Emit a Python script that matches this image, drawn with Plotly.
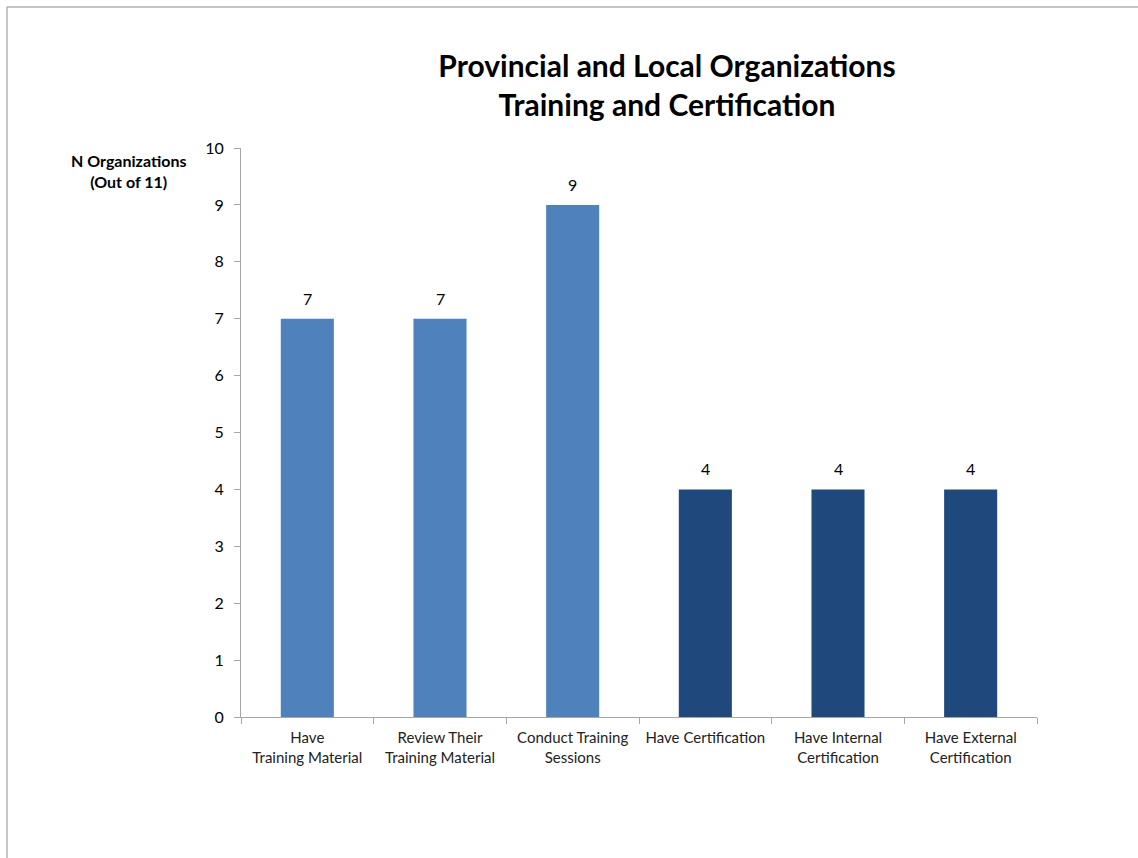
import plotly.graph_objects as go

categories = [
    "Have<br>Training Material",
    "Review Their<br>Training Material",
    "Conduct Training<br>Sessions",
    "Have Certification",
    "Have Internal<br>Certification",
    "Have External<br>Certification",
]
counts = [7, 7, 9, 4, 4, 4]
groups = ["training", "training", "training", "cert", "cert", "cert"]
group_colors = {"training": "#4F81BD", "cert": "#1F497D"}
y_ticks = list(range(0, 11))

W, H = 1138, 858
L, R, T, B = 241, 101, 148, 141
pw, ph = W - L - R, H - T - B

def px_x(p):
    return (p - L) / pw

def px_y(p):
    return (H - B - p) / ph

font_family = "Lato, 'Open Sans', Arial, sans-serif"

fig = go.Figure(
    go.Bar(
        x=categories,
        y=counts,
        marker=dict(color=[group_colors[g] for g in groups], line=dict(width=0)),
        width=0.4,
    )
)

# value labels above each bar
for cat, v in zip(categories, counts):
    fig.add_annotation(
        x=cat, y=v, text=str(v),
        xref="x", yref="y",
        yanchor="bottom", yshift=9,
        showarrow=False,
        font=dict(size=16, color="#000000", family=font_family),
    )

fig.update_layout(
    width=W,
    height=H,
    margin=dict(l=L, r=R, t=T, b=B),
    paper_bgcolor="white",
    plot_bgcolor="white",
    showlegend=False,
    font=dict(family=font_family, color="#000000"),
    title=dict(
        text="<b>Provincial and Local Organizations<br>Training and Certification</b>",
        x=px_x(667),
        xref="paper",
        xanchor="center",
        y=1 - 77 / H,
        yanchor="middle",
        font=dict(size=30, color="#000000", family=font_family),
    ),
    xaxis=dict(
        tickson="boundaries",
        ticks="outside",
        ticklen=6,
        tickcolor="#A6A6A6",
        showline=True,
        linecolor="#A6A6A6",
        linewidth=1,
        showgrid=False,
        ticklabelstandoff=7,
        tickfont=dict(size=15, color="#222222"),
    ),
    yaxis=dict(
        range=[0, 10],
        tickvals=y_ticks,
        ticks="outside",
        ticklen=6,
        tickcolor="#A6A6A6",
        showline=True,
        linecolor="#A6A6A6",
        linewidth=1,
        showgrid=False,
        zeroline=False,
        ticklabelstandoff=7,
        tickfont=dict(size=16, color="#000000"),
    ),
    bargap=0.6,
)

fig.add_annotation(
    text="<b>N Organizations<br>(Out of 11)</b>",
    xref="paper", yref="paper",
    x=px_x(128), y=px_y(171),
    xanchor="center", yanchor="middle",
    showarrow=False,
    font=dict(size=16, color="#000000"),
    align="center",
)

# outer frame lines (top and left edges)
fig.add_shape(type="line", xref="paper", yref="paper",
              x0=px_x(7), x1=px_x(1140), y0=px_y(7), y1=px_y(7),
              line=dict(color="#8C8C8C", width=1))
fig.add_shape(type="line", xref="paper", yref="paper",
              x0=px_x(7), x1=px_x(7), y0=px_y(7), y1=px_y(860),
              line=dict(color="#8C8C8C", width=1))

fig.write_html("out.html")
